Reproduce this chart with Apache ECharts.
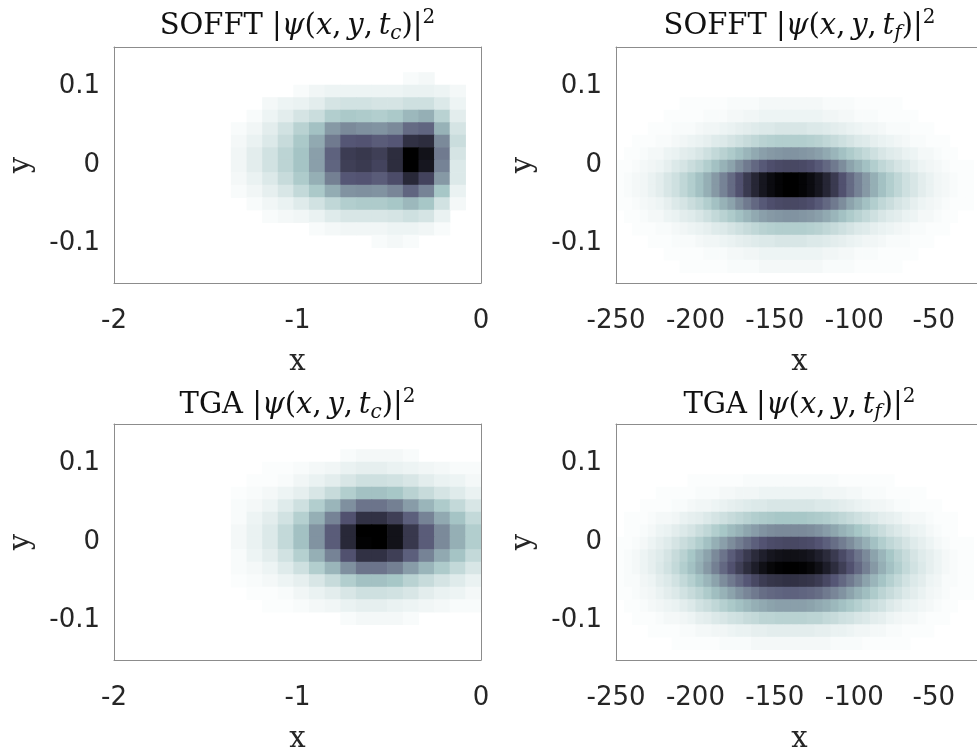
<!DOCTYPE html>
<html>
<head>
<meta charset="utf-8">
<script src="https://cdn.jsdelivr.net/npm/echarts@6/dist/echarts.min.js"></script>
<style>
  html, body { margin: 0; padding: 0; background: #fff; }
  #main { width: 977px; height: 749px; }
</style>
</head>
<body>
<div id="main"></div>
<script>
// cell centres (x) for the t_c panels and the t_f panels
var xCellsC = [-1.321, -1.235, -1.150, -1.065, -0.980, -0.895, -0.809, -0.724,
               -0.639, -0.554, -0.469, -0.383, -0.298, -0.213, -0.128, -0.043];
var xCellsF = [-247.5, -242.5, -237.5, -232.5, -227.5, -222.5, -217.5, -212.5, -207.5, -202.5,
               -197.5, -192.5, -187.5, -182.5, -177.5, -172.5, -167.5, -162.5, -157.5, -152.5,
               -147.5, -142.5, -137.5, -132.5, -127.5, -122.5, -117.5, -112.5, -107.5, -102.5,
               -97.5, -92.5, -87.5, -82.5, -77.5, -72.5, -67.5, -62.5, -57.5, -52.5,
               -47.5, -42.5, -37.5, -32.5, -27.5, -22.5];
// cell centres (y), top row first
var yCellsC = [0.1100, 0.0941, 0.0782, 0.0623, 0.0464, 0.0305, 0.0146,
               -0.0013, -0.0172, -0.0331, -0.0490, -0.0649, -0.0808, -0.0967];
var yCellsF = [0.0782, 0.0623, 0.0464, 0.0305, 0.0146, -0.0013, -0.0172,
               -0.0331, -0.0490, -0.0649, -0.0808, -0.0967, -0.1126, -0.1285];
var dxC = 0.0852, dxF = 5, dy = 0.0159;

// |psi|^2, scaled 0..100 per panel (100 = darkest)
var softC = [
  [0,0,0,0,0,0,0,0,0,0,0,2,3,0,0,0],
  [0,0,0,0,2,4,5,5,5,5,5,6,6,5,3,0],
  [0,0,3,5,6,8,12,13,13,12,12,14,14,10,5,0],
  [0,2,5,8,12,15,22,24,23,22,24,30,33,20,8,0],
  [2,4,8,13,20,27,40,45,43,42,45,55,57,32,12,0],
  [3,6,10,16,24,35,50,62,63,60,62,78,80,45,15,0],
  [4,8,13,19,26,38,58,73,75,72,80,100,92,50,12,0],
  [4,8,13,19,26,38,57,72,74,70,80,100,90,47,10,0],
  [3,6,10,16,23,33,48,62,63,60,66,82,70,40,10,0],
  [2,4,7,11,17,24,34,42,43,42,46,57,47,25,6,0],
  [0,2,4,6,9,13,18,22,23,23,25,30,25,13,3,0],
  [0,0,2,3,4,6,9,11,11,11,12,14,12,6,0,0],
  [0,0,0,0,0,2,3,4,4,4,5,5,4,2,0,0],
  [0,0,0,0,0,0,0,0,0,2,3,2,0,0,0,0]
];
var tgaC = [
  [0,0,0,0,0,0,0,2,3,3,3,2,0,0,0,0],
  [0,0,1,1,2,3,4,6,7,7,6,5,4,3,2,2],
  [0,1,1,2,4,6,8,11,14,14,13,11,8,6,5,3],
  [1,2,3,5,7,11,16,22,27,27,25,20,16,12,9,6],
  [2,3,5,9,14,22,31,43,52,52,48,39,31,23,17,11],
  [2,5,8,13,21,33,47,64,78,78,72,59,47,35,26,17],
  [3,6,10,17,27,42,60,82,100,100,92,75,60,45,33,22],
  [3,6,10,17,27,42,60,82,99,100,92,75,60,45,33,22],
  [2,5,8,13,21,33,47,64,78,78,72,59,47,35,26,17],
  [2,3,5,9,14,22,31,43,52,52,48,39,31,23,17,11],
  [1,2,3,5,7,11,16,22,27,27,25,20,16,12,9,6],
  [0,1,1,2,4,6,8,11,14,14,13,11,8,6,5,3],
  [0,0,1,1,2,3,4,6,7,7,6,5,4,3,2,2],
  [0,0,0,0,0,0,0,2,3,3,3,2,0,0,0,0]
];
var softF = [
  [0,0,0,0,0,0,0,0,1,1,1,1,1,1,2,2,2,2,3,3,3,3,3,3,3,3,2,2,2,2,1,1,1,1,1,1,0,0,0,0,0,0,0,0,0,0],
  [0,0,0,0,0,0,1,1,1,1,1,2,2,2,3,3,4,4,5,5,5,5,5,5,5,5,4,4,3,3,2,2,2,1,1,1,1,1,0,0,0,0,0,0,0,0],
  [0,0,0,0,1,1,1,2,2,2,3,4,4,5,6,7,8,9,10,10,11,11,11,11,10,10,9,8,7,6,5,4,4,3,2,2,2,1,1,1,0,0,0,0,0,0],
  [0,0,1,1,1,2,2,3,4,5,6,7,9,10,12,14,16,18,20,21,22,22,22,22,21,20,18,16,14,12,10,9,7,6,5,4,3,2,2,1,1,1,0,0,0,0],
  [0,1,1,2,3,3,5,6,8,9,11,14,17,20,23,27,31,35,38,40,41,42,42,41,40,38,35,31,27,23,20,17,14,11,9,8,6,5,3,3,2,1,1,0,0,0],
  [1,1,2,3,4,5,7,10,12,15,18,22,27,32,37,44,50,56,61,65,67,68,68,67,65,61,56,50,44,37,32,27,22,18,15,12,10,7,5,4,3,2,1,1,1,0],
  [1,2,3,4,6,8,11,14,18,22,27,33,40,47,55,64,74,83,90,95,98,100,100,98,95,90,83,74,64,55,47,40,33,27,22,18,14,11,8,6,4,3,2,1,1,0],
  [1,2,3,4,6,8,11,14,18,22,27,33,40,47,55,64,74,83,90,95,98,100,100,98,95,90,83,74,64,55,47,40,33,27,22,18,14,11,8,6,4,3,2,1,1,0],
  [1,1,2,3,4,5,7,10,12,15,18,22,27,32,37,44,50,56,61,65,67,68,68,67,65,61,56,50,44,37,32,27,22,18,15,12,10,7,5,4,3,2,1,1,1,0],
  [0,1,1,2,3,3,5,6,8,9,11,14,17,20,23,27,31,35,38,40,41,42,42,41,40,38,35,31,27,23,20,17,14,11,9,8,6,5,3,3,2,1,1,0,0,0],
  [0,0,1,1,1,2,2,3,4,5,6,7,9,10,12,14,16,18,20,21,22,22,22,22,21,20,18,16,14,12,10,9,7,6,5,4,3,2,2,1,1,1,0,0,0,0],
  [0,0,0,0,1,1,1,2,2,2,3,4,4,5,6,7,8,9,10,10,11,11,11,11,10,10,9,8,7,6,5,4,4,3,2,2,2,1,1,1,0,0,0,0,0,0],
  [0,0,0,0,0,0,1,1,1,1,1,2,2,2,3,3,4,4,5,5,5,5,5,5,5,5,4,4,3,3,2,2,2,1,1,1,1,1,0,0,0,0,0,0,0,0],
  [0,0,0,0,0,0,0,0,1,1,1,1,1,1,2,2,2,2,3,3,3,3,3,3,3,3,2,2,2,2,1,1,1,1,1,1,0,0,0,0,0,0,0,0,0,0]
];
var tgaF = [
  [0,0,0,0,0,0,0,0,0,1,1,1,1,1,1,1,2,2,2,2,2,2,2,2,2,2,2,2,1,1,1,1,1,1,1,0,0,0,0,0,0,0,0,0,0,0],
  [0,0,0,0,0,1,1,1,1,1,2,2,2,3,3,4,4,4,5,5,5,5,5,5,5,5,4,4,4,3,3,2,2,2,1,1,1,1,1,0,0,0,0,0,0,0],
  [0,0,0,1,1,1,1,2,2,3,4,4,5,6,7,8,9,10,10,11,11,11,11,11,11,10,10,9,8,7,6,5,4,4,3,2,2,1,1,1,1,0,0,0,0,0],
  [0,1,1,1,2,3,3,4,6,7,8,10,12,14,16,18,20,22,23,24,25,25,25,25,24,23,22,20,18,16,14,12,10,8,7,6,4,3,3,2,1,1,1,0,0,0],
  [0,1,1,2,3,5,6,8,10,12,15,18,22,25,29,32,36,39,42,44,45,45,45,45,44,42,39,36,32,29,25,22,18,15,12,10,8,6,5,3,2,1,1,0,0,0],
  [1,1,2,3,5,7,9,12,15,18,22,27,33,38,44,49,54,59,63,66,67,68,68,67,66,63,59,54,49,44,38,33,27,22,18,15,12,9,7,5,3,2,1,1,1,0],
  [1,2,3,5,7,9,12,16,20,25,31,37,45,52,60,67,74,81,86,90,92,93,93,92,90,86,81,74,67,60,52,45,37,31,25,20,16,12,9,7,5,3,2,1,1,0],
  [1,2,3,5,7,10,13,17,22,27,33,40,48,56,64,72,80,87,93,97,99,100,100,99,97,93,87,80,72,64,56,48,40,33,27,22,17,13,10,7,5,3,2,1,1,0],
  [1,2,2,4,5,8,10,13,17,21,26,31,37,44,50,56,62,68,73,76,77,78,78,77,76,73,68,62,56,50,44,37,31,26,21,17,13,10,8,5,4,2,2,1,1,0],
  [1,1,2,3,4,6,8,10,13,16,19,23,28,32,37,42,46,50,54,56,57,58,58,57,56,54,50,46,42,37,32,28,23,19,16,13,10,8,6,4,3,2,1,1,1,0],
  [0,1,1,2,3,4,5,6,8,10,13,15,18,21,24,27,30,33,35,37,38,38,38,38,37,35,33,30,27,24,21,18,15,13,10,8,6,5,4,3,2,1,1,0,0,0],
  [0,0,1,1,1,2,3,3,4,5,7,8,10,11,13,14,16,17,19,19,20,20,20,20,19,19,17,16,14,13,11,10,8,7,5,4,3,3,2,1,1,1,0,0,0,0],
  [0,0,0,0,1,1,1,1,2,2,3,3,4,4,5,6,6,7,7,8,8,8,8,8,8,7,7,6,6,5,4,4,3,3,2,2,1,1,1,1,0,0,0,0,0,0],
  [0,0,0,0,0,0,0,1,1,1,1,1,1,2,2,2,2,3,3,3,3,3,3,3,3,3,3,2,2,2,2,1,1,1,1,1,1,0,0,0,0,0,0,0,0,0]
];

var xTicksC = [-2, -1, 0];
var xTicksF = [-250, -200, -150, -100, -50];
var yTicks = [-0.1, 0, 0.1];

// flipped MATLAB bone colormap, 0 -> white, 100 -> black
var bone = ['#ffffff', '#d3e3e3', '#a7c7c7', '#8ba1ab', '#707a8f', '#545474', '#38384d', '#1c1c27', '#000000'];

function toCells(xs, ys, m) {
  var out = [];
  for (var r = 0; r < ys.length; r++) {
    for (var c = 0; c < xs.length; c++) {
      if (m[r][c] > 0) out.push([xs[c], ys[r], m[r][c]]);
    }
  }
  return out;
}

function cellRenderer(dx) {
  return function (params, api) {
    var x = api.value(0), y = api.value(1);
    var p0 = api.coord([x - dx / 2, y + dy / 2]);
    var p1 = api.coord([x + dx / 2, y - dy / 2]);
    var cs = params.coordSys;
    var rect = echarts.graphic.clipRectByRect(
      {x: p0[0], y: p0[1], width: p1[0] - p0[0] + 0.6, height: p1[1] - p0[1] + 0.6},
      {x: cs.x, y: cs.y, width: cs.width, height: cs.height}
    );
    return rect && {type: 'rect', shape: rect, style: {fill: api.visual('color')}};
  };
}

var panels = [
  {left: 114, top: 47, xMin: -2, xMax: 0, ticks: xTicksC, xs: xCellsC, ys: yCellsC, m: softC, dx: dxC},
  {left: 616, top: 47, xMin: -250, xMax: -19, ticks: xTicksF, xs: xCellsF, ys: yCellsF, m: softF, dx: dxF},
  {left: 114, top: 424, xMin: -2, xMax: 0, ticks: xTicksC, xs: xCellsC, ys: yCellsC, m: tgaC, dx: dxC},
  {left: 616, top: 424, xMin: -250, xMax: -19, ticks: xTicksF, xs: xCellsF, ys: yCellsF, m: tgaF, dx: dxF}
];

var boxColor = '#8c8c8c';
var tickFont = {fontFamily: 'DejaVu Sans', fontSize: 26, color: '#262626'};
var nameFont = {fontFamily: 'DejaVu Serif', fontSize: 29, color: '#262626'};

var grids = [], xAxes = [], yAxes = [], series = [], maps = [];
panels.forEach(function (p, i) {
  grids.push({left: p.left, top: p.top, width: 367, height: 236,
              containLabel: false, outerBoundsMode: 'none'});
  xAxes.push({
    type: 'value', gridIndex: i, min: p.xMin, max: p.xMax, z: 10,
    name: 'x', nameLocation: 'middle', nameGap: 65, nameTextStyle: nameFont,
    axisLine: {show: true, onZero: false, lineStyle: {color: boxColor, width: 1}},
    axisTick: {show: false}, splitLine: {show: false},
    axisLabel: {margin: 25, customValues: p.ticks, fontFamily: tickFont.fontFamily,
                fontSize: tickFont.fontSize, color: tickFont.color}
  });
  xAxes.push({
    type: 'value', gridIndex: i, position: 'top', min: p.xMin, max: p.xMax, z: 10,
    axisLine: {show: true, onZero: false, lineStyle: {color: boxColor, width: 1}},
    axisTick: {show: false}, splitLine: {show: false}, axisLabel: {show: false}
  });
  yAxes.push({
    type: 'value', gridIndex: i, min: -0.15, max: 0.15, z: 10,
    name: 'y', nameLocation: 'middle', nameGap: 78, nameTextStyle: nameFont,
    axisLine: {show: true, onZero: false, lineStyle: {color: boxColor, width: 1}},
    axisTick: {show: false}, splitLine: {show: false},
    axisLabel: {margin: 14, customValues: yTicks, padding: [8, 0, 0, 0],
                fontFamily: tickFont.fontFamily, fontSize: tickFont.fontSize, color: tickFont.color}
  });
  yAxes.push({
    type: 'value', gridIndex: i, position: 'right', min: -0.15, max: 0.15, z: 10,
    axisLine: {show: true, onZero: false, lineStyle: {color: boxColor, width: 1}},
    axisTick: {show: false}, splitLine: {show: false}, axisLabel: {show: false}
  });
  series.push({
    type: 'custom', xAxisIndex: 2 * i, yAxisIndex: 2 * i,
    renderItem: cellRenderer(p.dx), encode: {x: 0, y: 1},
    data: toCells(p.xs, p.ys, p.m), animation: false, silent: true
  });
  maps.push({
    type: 'continuous', show: false, seriesIndex: i, dimension: 2,
    min: 0, max: 100, inRange: {color: bone}
  });
});

function titleText(label, t, cx, cy) {
  return {
    type: 'text', x: cx, y: cy, silent: true,
    style: {
      text: '{r|' + label + ' |}{i|\u03c8}{r|(}{i|x}{r|,\u2009}{i|y}{r|,\u2009}{i|t}{s|' + t + '}{r|)|}{p|2}',
      align: 'center', verticalAlign: 'middle',
      rich: {
        r: {fontFamily: 'DejaVu Serif', fontSize: 29, lineHeight: 36, verticalAlign: 'middle', fill: '#111'},
        i: {fontFamily: 'DejaVu Serif', fontSize: 29, fontStyle: 'italic', lineHeight: 36, verticalAlign: 'middle', fill: '#111'},
        s: {fontFamily: 'DejaVu Serif', fontSize: 20, fontStyle: 'italic', lineHeight: 20, verticalAlign: 'bottom', fill: '#111'},
        p: {fontFamily: 'DejaVu Serif', fontSize: 20, lineHeight: 20, verticalAlign: 'top', fill: '#111'}
      }
    }
  };
}

var chart = echarts.init(document.getElementById('main'), null, {renderer: 'canvas'});
chart.setOption({
  backgroundColor: '#ffffff',
  animation: false,
  grid: grids,
  xAxis: xAxes,
  yAxis: yAxes,
  visualMap: maps,
  series: series,
  graphic: [
    titleText('SOFFT', 'c', 297.5, 26),
    titleText('SOFFT', 'f', 799.5, 26),
    titleText('TGA', 'c', 297.5, 405),
    titleText('TGA', 'f', 799.5, 405)
  ]
});
</script>
</body>
</html>
